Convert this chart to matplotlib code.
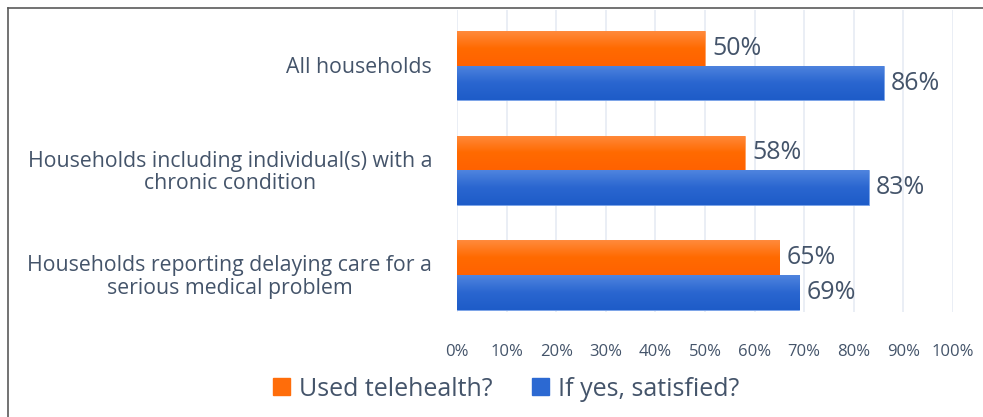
import numpy as np
import matplotlib.pyplot as plt
from matplotlib.lines import Line2D
from matplotlib.patches import Patch
from matplotlib.colors import LinearSegmentedColormap
from matplotlib.transforms import blended_transform_factory

categories = ["All households",
              "Households including individual(s) with a\nchronic condition",
              "Households reporting delaying care for a\nserious medical problem"]
used = [50, 58, 65]
satisfied = [86, 83, 69]
series_names = ["Used telehealth?", "If yes, satisfied?"]
xticks = [0, 10, 20, 30, 40, 50, 60, 70, 80, 90, 100]

orange = "#FF6D0A"
blue = "#2C69D2"
txt = "#44546A"

plt.rcParams['font.family'] = ['Open Sans', 'DejaVu Sans']

W, H = 983, 417
fig = plt.figure(figsize=(W / 100, H / 100), dpi=100)
ax = fig.add_axes([457 / W, 1 - 312 / H, (953 - 457) / W, (312 - 10) / H])

y = np.arange(len(categories))
h = 0.333
bars_o = ax.barh(y - h / 2, used, height=h, color=orange, edgecolor="#FFA060", linewidth=0.6, zorder=3)
bars_b = ax.barh(y + h / 2, satisfied, height=h, color=blue, edgecolor="#7AA3E8", linewidth=0.6, zorder=3)

# soft vertical shading inside each bar
cm_o = LinearSegmentedColormap.from_list("o", ["#FF8A3C", "#FF6A00", "#FF6200"])
cm_b = LinearSegmentedColormap.from_list("b", ["#4F84DE", "#2A66D0", "#1E5CC8"])
grad = np.linspace(0, 1, 64).reshape(-1, 1)
for bars, cm in ((bars_o, cm_o), (bars_b, cm_b)):
    for r in bars:
        x0, y0, w, hh = r.get_x(), r.get_y(), r.get_width(), r.get_height()
        im = ax.imshow(grad, cmap=cm, aspect="auto", extent=(x0, x0 + w, y0 + hh, y0),
                       origin="upper", zorder=3.5)
        im.set_clip_path(r)

for yy, v in zip(y, used):
    ax.text(v + 1.5, yy - h / 2, f"{v}%", va="center", ha="left", fontsize=18, color=txt)
for yy, v in zip(y, satisfied):
    ax.text(v + 1.5, yy + h / 2, f"{v}%", va="center", ha="left", fontsize=18, color=txt)

ax.set_xlim(0, 100)
ax.set_ylim(2.35, -0.53)
ax.set_xticks(xticks)
ax.set_xticklabels([f"{t}%" for t in xticks], fontsize=12, color=txt)
ax.tick_params(axis="x", length=0, pad=23)
ax.set_yticks([])
ax.grid(axis="x", color="#E6EBF3", linewidth=1.2, zorder=0)
for s in ax.spines.values():
    s.set_visible(False)

# category names, right-aligned block with centred lines
tr = blended_transform_factory(ax.transAxes, ax.transData)
for yy, name in zip(y, categories):
    ax.text(-25 / 496, yy + 0.02, name, transform=tr, ha="right", va="center",
            multialignment="center", fontsize=15.3, color=txt, linespacing=1.12)

handles = [Patch(color=orange), Patch(color=blue)]
fig.legend(handles, series_names, loc="center", bbox_to_anchor=(506 / W, 1 - 389 / H),
           ncol=2, frameon=False, fontsize=18, labelcolor=txt,
           handlelength=0.68, handleheight=0.68, handletextpad=0.36, columnspacing=1.56)

# outer frame (top and left edges)
fig.add_artist(Line2D([8 / W, 1], [1 - 8 / H, 1 - 8 / H], color="#5A5A5A", lw=1.2, transform=fig.transFigure))
fig.add_artist(Line2D([8 / W, 8 / W], [0, 1 - 8 / H], color="#5A5A5A", lw=1.2, transform=fig.transFigure))

fig.savefig("out.png", dpi=100)
